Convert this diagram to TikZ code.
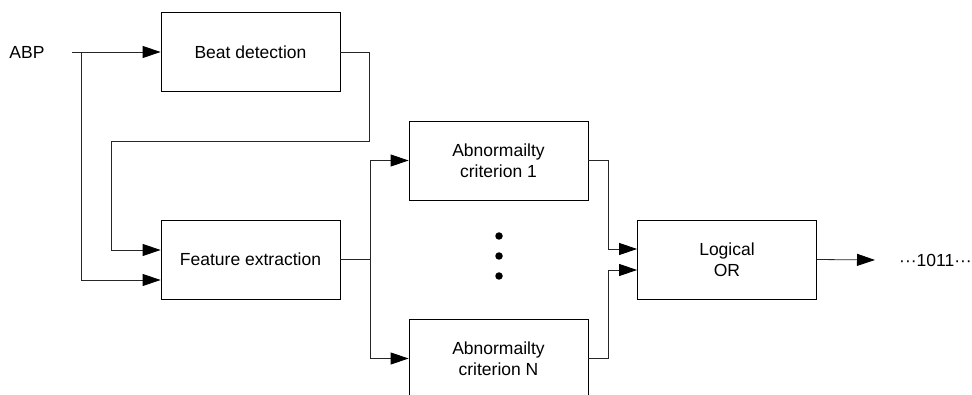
\documentclass[tikz,border=0pt]{standalone}
\usepackage{fontspec}
\setmainfont{Liberation Sans}
\usetikzlibrary{arrows.meta,calc}
\begin{document}
\begin{tikzpicture}[x=1pt,y=-1pt,
  box/.style={draw=black,line width=0.8pt,minimum width=179pt,minimum height=79pt,inner sep=0pt,align=center,font=\fontsize{17.5}{21}\selectfont},
  lbl/.style={inner sep=0pt,font=\fontsize{17.5}{21}\selectfont},
  arr/.style={-{Triangle[length=18pt,width=12pt,color=black,fill=black]}},
  wire/.style={line width=0.8pt,draw=black!85},
  dot/.style={circle,fill=black,inner sep=0pt,minimum size=7.5pt}]
\useasboundingbox (0,0) rectangle (972,395);
\begin{scope}
\clip (0,0) rectangle (972,395);
\node[box] (beat) at (250.5,52) {Beat detection};
\node[box] (feat) at (250.5,259.5) {Feature extraction};
\node[box] (abn1) at (498.5,160.5) {Abnormailty\\criterion 1};
\node[box] (abnN) at (498.5,358.5) {Abnormailty\\criterion N};
\node[box] (orbox) at (727,259.5) {Logical\\OR};
\end{scope}
\node[lbl] (abp) at (27,52) {ABP};
\node[lbl,anchor=west] (out) at (899,260) {···1011···};
\node[dot] (d1) at (499,236) {};
\node[dot] (d2) at (499,256) {};
\node[dot] (d3) at (499,276) {};
\coordinate (in) at (72,52);
\coordinate (j1) at (81,52);
\coordinate (r1) at (369,141);
\coordinate (l1) at (111,141);
\coordinate (j2) at (370,259.5);
\draw[wire,arr] (in) -- (beat.west);
\draw[wire,arr] (j1) |- ([yshift=-20.5pt]feat.west);
\draw[wire,arr] (beat.east) -| (r1) -- (l1) |- ([yshift=9.5pt]feat.west);
\draw[wire] (feat.east) -- (j2);
\draw[wire,arr] (j2) |- (abn1.west);
\draw[wire,arr] (j2) |- (abnN.west);
\draw[wire,arr] (abn1.east) -- ++(20,0) |- ([yshift=10.5pt]orbox.west);
\draw[wire,arr] (abnN.east) -- ++(20,0) |- ([yshift=-10.5pt]orbox.west);
\draw[wire,arr] (orbox.east) -- ([xshift=-24pt]out.west);
\end{tikzpicture}
\end{document}
